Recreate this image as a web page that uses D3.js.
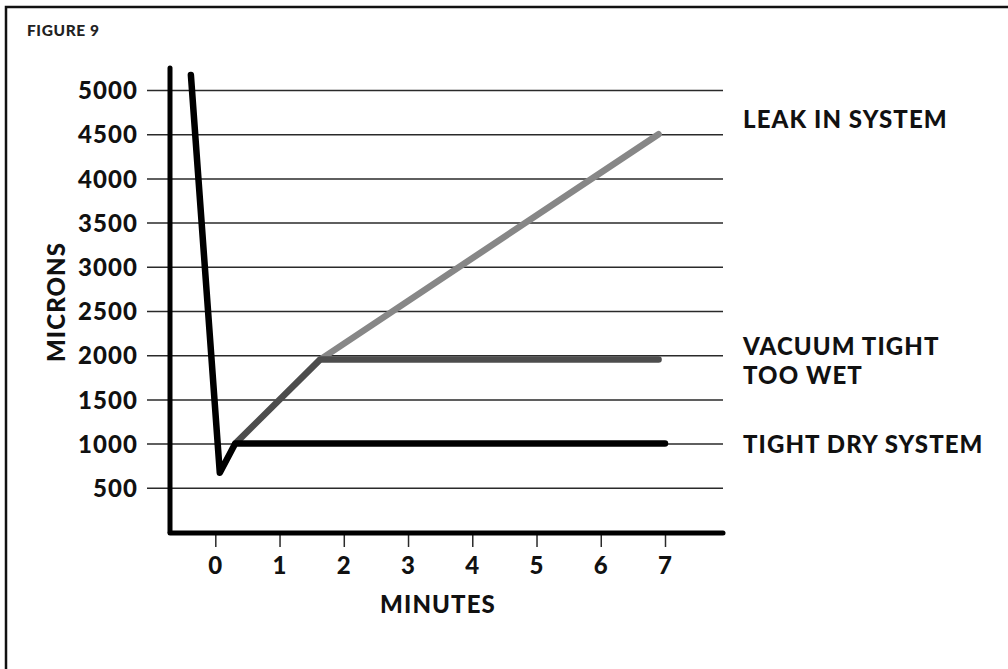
<!DOCTYPE html>
<html>
<head>
<meta charset="utf-8">
<script src="https://cdn.jsdelivr.net/npm/d3@7"></script>
<style>
  html, body { margin: 0; padding: 0; background: #fff; }
  svg { display: block; }
  text { font-family: Lato, "Open Sans", sans-serif; font-weight: 900; fill: #111; }
</style>
</head>
<body>
<script>
// Evacuation curves: vacuum level (microns) against elapsed time (minutes)
const xTicks = [0, 1, 2, 3, 4, 5, 6, 7];
const yTicks = [500, 1000, 1500, 2000, 2500, 3000, 3500, 4000, 4500, 5000];

const tightDryMinutes = [-0.38, 0.07, 0.31, 7.0];
const tightDryMicrons = [5170, 670, 1000, 1000];

const tooWetMinutes = [0.31, 1.63, 6.9];
const tooWetMicrons = [1000, 1950, 1950];

const leakMinutes = [1.63, 6.9];
const leakMicrons = [1950, 4500];

const seriesNames = ["LEAK IN SYSTEM", ["VACUUM TIGHT", "TOO WET"], "TIGHT DRY SYSTEM"];

const W = 1008, H = 669;
const svg = d3.select("body").append("svg").attr("width", W).attr("height", H);

// frame around the figure (open at the right and bottom edges of the page)
svg.append("rect")
  .attr("x", 6).attr("y", 7).attr("width", W + 20).attr("height", H + 20)
  .attr("fill", "none").attr("stroke", "#111").attr("stroke-width", 2.5);

svg.append("text")
  .attr("x", 27).attr("y", 36)
  .style("font-size", "15.5px").style("letter-spacing", "0.6px").style("fill", "#222")
  .text("FIGURE 9");

const x = d3.scaleLinear().domain([0, 7]).range([215.3, 665]);
const y = d3.scaleLinear().domain([0, 5000]).range([532, 90]);

const labelFont = sel => sel
  .style("font-size", "24px")
  .style("letter-spacing", "1.1px")
  .style("font-family", "Lato, sans-serif")
  .style("font-weight", 900)
  .attr("fill", "#111");

// horizontal grid with value labels on the left
const gridLeft = 147, gridRight = 723;
const yAxis = svg.append("g")
  .attr("transform", `translate(${gridLeft},0)`)
  .call(d3.axisLeft(y).tickValues(yTicks).tickSize(-(gridRight - gridLeft)).tickPadding(9).tickFormat(d3.format("d")));
yAxis.select(".domain").remove();
yAxis.selectAll(".tick line").attr("stroke", "#2a2a2a").attr("stroke-width", 1.5);
yAxis.selectAll(".tick text").attr("dy", "0.36em").call(labelFont);

// x ticks below the axis
const xAxis = svg.append("g")
  .attr("transform", "translate(0,535)")
  .call(d3.axisBottom(x).tickValues(xTicks).tickSize(12).tickPadding(10).tickFormat(d3.format("d")));
xAxis.select(".domain").remove();
xAxis.selectAll(".tick line").attr("stroke", "#2a2a2a").attr("stroke-width", 1.5);
xAxis.selectAll(".tick text").call(labelFont);

// curves
const line = d3.line().x(d => x(d[0])).y(d => y(d[1]));
const curves = [
  { xs: leakMinutes, ys: leakMicrons, color: "#878787" },
  { xs: tooWetMinutes, ys: tooWetMicrons, color: "#4d4d4d" },
  { xs: tightDryMinutes, ys: tightDryMicrons, color: "#000" }
];
curves.forEach(c => {
  svg.append("path")
    .datum(c.xs.map((v, i) => [v, c.ys[i]]))
    .attr("d", line)
    .attr("fill", "none")
    .attr("stroke", c.color)
    .attr("stroke-width", 6.5)
    .attr("stroke-linejoin", "round")
    .attr("stroke-linecap", "round");
});

// heavy axis lines
svg.append("line")
  .attr("x1", 170).attr("x2", 170).attr("y1", 68).attr("y2", y(0))
  .attr("stroke", "#000").attr("stroke-width", 5).attr("stroke-linecap", "round");
svg.append("line")
  .attr("x1", 170).attr("x2", 723).attr("y1", y(0) + 1).attr("y2", y(0) + 1)
  .attr("stroke", "#000").attr("stroke-width", 5).attr("stroke-linecap", "round");

// axis titles
svg.append("text")
  .attr("x", 438).attr("y", 613)
  .attr("text-anchor", "middle")
  .call(labelFont)
  .text("MINUTES");
svg.append("text")
  .attr("transform", "translate(65,302) rotate(-90)")
  .attr("text-anchor", "middle")
  .call(labelFont)
  .text("MICRONS");

// curve names at the right
const labelX = 743;
const names = [
  { text: seriesNames[0], y: 128 },
  { text: seriesNames[1][0], y: 355 },
  { text: seriesNames[1][1], y: 384 },
  { text: seriesNames[2], y: 453 }
];
names.forEach(n => {
  svg.append("text").attr("x", labelX).attr("y", n.y).call(labelFont).text(n.text);
});
</script>
</body>
</html>
